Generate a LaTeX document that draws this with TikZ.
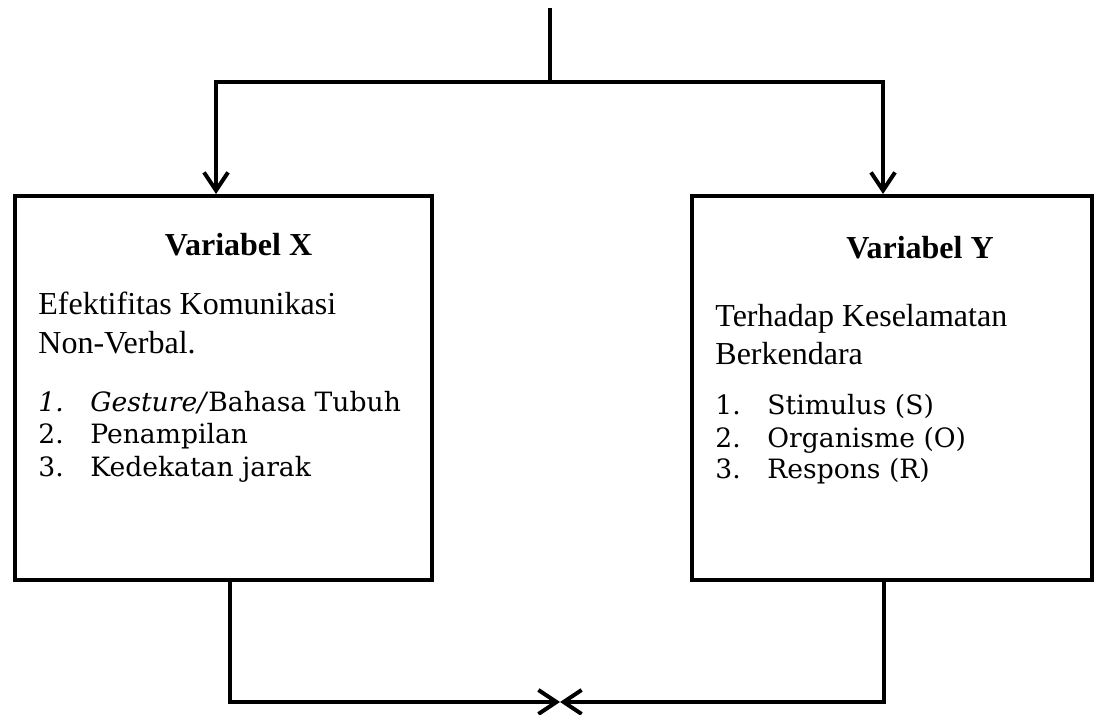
\documentclass[tikz,border=0pt]{standalone}
\usepackage{fontspec}
\setmainfont{Liberation Serif}
\newfontfamily\listfont{DejaVu Serif}
\usepackage{tikz}
\usetikzlibrary{shapes,arrows.meta,positioning}

\begin{document}
\begin{tikzpicture}
  [
    x=0.5pt, y=-0.5pt,
    Box/.style={rectangle, draw=black, line width=2pt, minimum height=192pt, inner sep=0pt},
    Title/.style={font=\fontsize{16}{19}\selectfont\bfseries, anchor=base, inner sep=0pt},
    Lead/.style={font=\fontsize{16}{19}\selectfont, anchor=base west, inner sep=0pt},
    Item/.style={font=\listfont\fontsize{13.3}{16}\selectfont, anchor=base west, inner sep=0pt},
    Flow/.style={draw, line width=2pt, -{Straight Barb[length=9pt,width=12pt]}},
    Wire/.style={draw, line width=2pt}
  ]
  \useasboundingbox (0,0) rectangle (1096,715);

  % Nodes
  \node[Box, minimum width=208.5pt] (boxX) at (223.5, 388) {};
  \node[Box, minimum width=200pt] (boxY) at (892, 388) {};

  \node[Title] (titleX) at (238.5, 256) {Variabel X};
  \node[Lead] (leadX1) at (38, 315) {Efektifitas Komunikasi};
  \node[Lead] (leadX2) at (38, 354) {Non-Verbal.};
  \node[Item] (itemX1) at (38, 412) {\makebox[26pt][l]{\itshape 1.}\textit{Gesture/}Bahasa Tubuh};
  \node[Item] (itemX2) at (38, 444) {\makebox[26pt][l]{2.}Penampilan};
  \node[Item] (itemX3) at (38, 476) {\makebox[26pt][l]{3.}Kedekatan jarak};

  \node[Title] (titleY) at (920, 259) {Variabel Y};
  \node[Lead] (leadY1) at (715, 327) {Terhadap Keselamatan};
  \node[Lead] (leadY2) at (715, 365) {Berkendara};
  \node[Item] (itemY1) at (715, 415) {\makebox[26pt][l]{1.}Stimulus (S)};
  \node[Item] (itemY2) at (715, 447) {\makebox[26pt][l]{2.}Organisme (O)};
  \node[Item] (itemY3) at (715, 479) {\makebox[26pt][l]{3.}Respons (R)};

  \coordinate (top) at (550, 8);
  \coordinate (split) at (550, 82);
  \coordinate (splitX) at (216, 82);
  \coordinate (splitY) at (883, 82);
  \coordinate (joinX) at (230, 702);
  \coordinate (joinY) at (884, 702);
  \coordinate (meet) at (560, 702);

  % Lines
  \path [Wire] (top) -- (split);
  \path [Flow] (split) -| (boxX.north -| splitX);
  \path [Flow] (split) -| (boxY.north -| splitY);
  \path [Flow] (boxX.south -| joinX) |- (meet);
  \path [Flow] (boxY.south -| joinY) |- (meet);

\end{tikzpicture}
\end{document}
